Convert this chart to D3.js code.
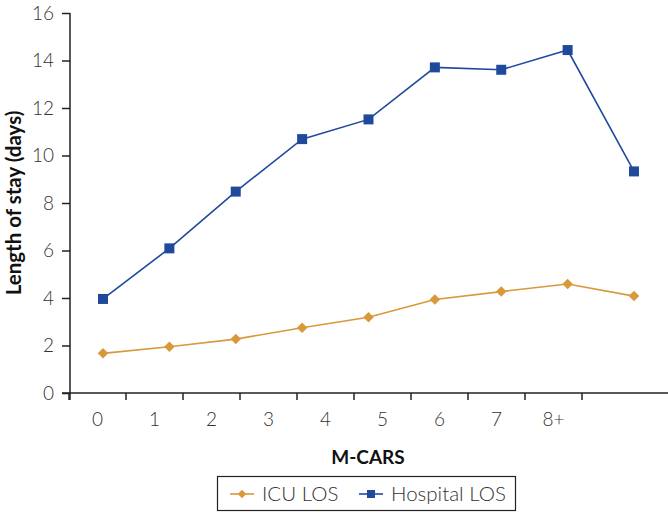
<!DOCTYPE html>
<html><head><meta charset="utf-8">
<script src="https://cdn.jsdelivr.net/npm/d3@7"></script>
<style>
html,body{margin:0;padding:0;background:#fff;}
svg text{font-family:Lato,"Open Sans",sans-serif;}
</style></head>
<body><svg id="chart" width="668" height="516"></svg>
<script>
const categories = ["0","1","2","3","4","5","6","7","8+"];
const icuLOS = [1.67,1.95,2.27,2.75,3.19,3.94,4.27,4.59,4.08];
const hospitalLOS = [3.96,6.09,8.48,10.69,11.52,13.71,13.61,14.44,9.33];
const yTicks = [0,2,4,6,8,10,12,14,16];
const seriesNames = ["ICU LOS","Hospital LOS"];

const orange = "#D8993A", blue = "#1F4A9C", axisCol = "#222";
const svg = d3.select("#chart");

const y = d3.scaleLinear().domain([0,16]).range([393,13]);
const xBand = d3.scaleBand().domain(categories).range([69,582]);
const xPt = d3.scalePoint().domain(categories).range([103,634]);

// y axis
const yAxis = svg.append("g").attr("transform","translate(70,0)")
  .call(d3.axisLeft(y).tickValues(yTicks).tickSize(8).tickSizeOuter(0).tickPadding(8));
yAxis.select(".domain").attr("stroke",axisCol).attr("stroke-width",1.5).attr("d","M0,13V400");
yAxis.selectAll(".tick line").attr("stroke",axisCol).attr("stroke-width",1.5);
yAxis.selectAll(".tick text").attr("font-size",19).attr("font-weight",300).attr("fill","#333");

// x axis
const xAxis = svg.append("g").attr("transform","translate(0,393)")
  .call(d3.axisBottom(xBand).tickSize(0).tickPadding(20));
xAxis.select(".domain").attr("stroke",axisCol).attr("stroke-width",1.5).attr("d","M62,0H668");
xAxis.selectAll(".tick text").attr("font-size",19).attr("font-weight",300).attr("fill","#333");
const bounds = categories.map(c=>xBand(c)).concat([xBand.range()[1]]);
xAxis.selectAll("line.b").data(bounds).join("line").attr("class","b")
  .attr("x1",d=>d).attr("x2",d=>d).attr("y1",0).attr("y2",7)
  .attr("stroke",axisCol).attr("stroke-width",1.5);

// titles
svg.append("text").attr("x",368).attr("y",464).attr("text-anchor","middle")
  .attr("font-size",19).attr("font-weight",700).attr("fill","#111").text("M-CARS");
svg.append("text").attr("transform","translate(21,203) rotate(-90)").attr("text-anchor","middle")
  .attr("font-size",20.5).attr("font-weight",700).attr("fill","#111").text("Length of stay (days)");

// lines
const line = d3.line().x((d,i)=>xPt(categories[i])).y(d=>y(d));
svg.append("path").datum(icuLOS).attr("d",line).attr("fill","none").attr("stroke",orange).attr("stroke-width",1.6);
svg.append("path").datum(hospitalLOS).attr("d",line).attr("fill","none").attr("stroke",blue).attr("stroke-width",1.6);

const diamond = d3.symbol().type(d3.symbolDiamond2).size(70);
svg.selectAll("path.icu").data(icuLOS).join("path").attr("class","icu")
  .attr("transform",(d,i)=>`translate(${xPt(categories[i])},${y(d)})`)
  .attr("d",diamond).attr("fill",orange);
svg.selectAll("rect.hosp").data(hospitalLOS).join("rect").attr("class","hosp")
  .attr("x",(d,i)=>xPt(categories[i])-5).attr("y",d=>y(d)-5)
  .attr("width",10).attr("height",10).attr("fill",blue);

// legend
const lg = svg.append("g");
lg.append("rect").attr("x",217.5).attr("y",476.5).attr("width",298).attr("height",34)
  .attr("fill","#fff").attr("stroke","#222").attr("stroke-width",1.2);
const items = [{name:seriesNames[0],col:orange,x0:230,shape:"d"},{name:seriesNames[1],col:blue,x0:359,shape:"s"}];
items.forEach(it=>{
  const cy = 494;
  lg.append("line").attr("x1",it.x0).attr("x2",it.x0+24).attr("y1",cy).attr("y2",cy).attr("stroke",it.col).attr("stroke-width",1.6);
  if(it.shape==="d") lg.append("path").attr("transform",`translate(${it.x0+12},${cy})`).attr("d",d3.symbol().type(d3.symbolDiamond2).size(45)).attr("fill",it.col);
  else lg.append("rect").attr("x",it.x0+8).attr("y",cy-4).attr("width",8).attr("height",8).attr("fill",it.col);
  lg.append("text").attr("x",it.x0+32).attr("y",cy+7).attr("font-size",20.5).attr("font-weight",300).attr("fill","#333").text(it.name);
});
</script></body></html>
